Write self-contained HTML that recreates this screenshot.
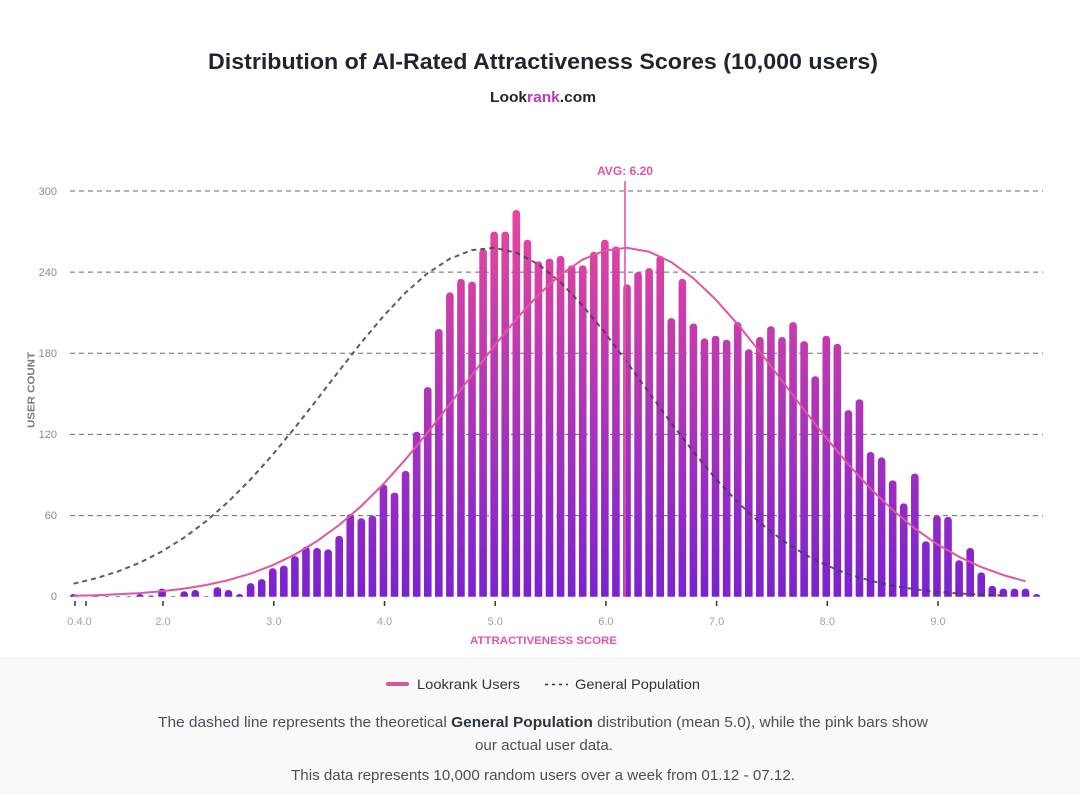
<!DOCTYPE html>
<html><head><meta charset="utf-8"><style>
html,body{margin:0;padding:0;background:#fff;}
svg{display:block;font-family:"Liberation Sans",Arial,sans-serif;}
</style></head><body>
<svg width="1080" height="795" viewBox="0 0 1080 795" xmlns="http://www.w3.org/2000/svg">
<defs>
<linearGradient id="bg" gradientUnits="userSpaceOnUse" x1="0" y1="0" x2="0" y2="300">
<stop offset="0" stop-color="#7a22d0"/><stop offset="0.5" stop-color="#b236b6"/><stop offset="1" stop-color="#ee4899"/>
</linearGradient>
<clipPath id="cp"><rect x="0" y="0" width="1080" height="596.7"/></clipPath>
</defs>
<rect x="0" y="0" width="1080" height="795" fill="#ffffff"/>
<rect x="0" y="657" width="1080" height="138" fill="#f9f9fa"/>

<text x="543" y="69" text-anchor="middle" font-size="22" font-weight="bold" fill="#1f2430" textLength="670" lengthAdjust="spacingAndGlyphs">Distribution of AI-Rated Attractiveness Scores (10,000 users)</text>
<text x="543" y="102" text-anchor="middle" font-size="15" font-weight="bold" fill="#1f2430" textLength="106" lengthAdjust="spacingAndGlyphs">Look<tspan fill="#b23db8">rank</tspan>.com</text>

<g stroke="#6a6a6a" stroke-width="1" stroke-dasharray="5,4" fill="none">
<line x1="70" y1="191" x2="1043" y2="191"/>
<line x1="70" y1="272.1" x2="1043" y2="272.1"/>
<line x1="70" y1="353.3" x2="1043" y2="353.3"/>
<line x1="70" y1="434.4" x2="1043" y2="434.4"/>
<line x1="70" y1="515.6" x2="1043" y2="515.6"/>
</g>

<g font-size="11" fill="#8a8a8a" text-anchor="end">
<text x="57" y="195">300</text>
<text x="57" y="276">240</text>
<text x="57" y="357">180</text>
<text x="57" y="438">120</text>
<text x="57" y="519">60</text>
<text x="57" y="600">0</text>
</g>
<text transform="translate(34.5,390) rotate(-90)" text-anchor="middle" font-size="10" font-weight="bold" fill="#7a7a7a" textLength="76" lengthAdjust="spacingAndGlyphs">USER COUNT</text>

<g clip-path="url(#cp)">
<g transform="translate(69.7,596.7) scale(11.07,-1.3523)" fill="url(#bg)">
<rect x="0" y="-4" width=".687" height="6" rx=".32" ry="2.6"/>
<rect x="2" y="-4" width=".687" height="5" rx=".32" ry="2.6"/>
<rect x="3" y="-4" width=".687" height="4.5" rx=".32" ry="2.6"/>
<rect x="4" y="-4" width=".687" height="4.5" rx=".32" ry="2.6"/>
<rect x="5" y="-4" width=".687" height="4.5" rx=".32" ry="2.6"/>
<rect x="6" y="-4" width=".687" height="6" rx=".32" ry="2.6"/>
<rect x="7" y="-4" width=".687" height="5" rx=".32" ry="2.6"/>
<rect x="8" y="-4" width=".687" height="10" rx=".32" ry="2.6"/>
<rect x="9" y="-4" width=".687" height="4.5" rx=".32" ry="2.6"/>
<rect x="10" y="-4" width=".687" height="8" rx=".32" ry="2.6"/>
<rect x="11" y="-4" width=".687" height="9" rx=".32" ry="2.6"/>
<rect x="12" y="-4" width=".687" height="4.5" rx=".32" ry="2.6"/>
<rect x="13" y="-4" width=".687" height="11" rx=".32" ry="2.6"/>
<rect x="14" y="-4" width=".687" height="9" rx=".32" ry="2.6"/>
<rect x="15" y="-4" width=".687" height="6" rx=".32" ry="2.6"/>
<rect x="16" y="-4" width=".687" height="14" rx=".32" ry="2.6"/>
<rect x="17" y="-4" width=".687" height="17" rx=".32" ry="2.6"/>
<rect x="18" y="-4" width=".687" height="25" rx=".32" ry="2.6"/>
<rect x="19" y="-4" width=".687" height="27" rx=".32" ry="2.6"/>
<rect x="20" y="-4" width=".687" height="34" rx=".32" ry="2.6"/>
<rect x="21" y="-4" width=".687" height="41" rx=".32" ry="2.6"/>
<rect x="22" y="-4" width=".687" height="40" rx=".32" ry="2.6"/>
<rect x="23" y="-4" width=".687" height="39" rx=".32" ry="2.6"/>
<rect x="24" y="-4" width=".687" height="49" rx=".32" ry="2.6"/>
<rect x="25" y="-4" width=".687" height="65" rx=".32" ry="2.6"/>
<rect x="26" y="-4" width=".687" height="62" rx=".32" ry="2.6"/>
<rect x="27" y="-4" width=".687" height="64" rx=".32" ry="2.6"/>
<rect x="28" y="-4" width=".687" height="87" rx=".32" ry="2.6"/>
<rect x="29" y="-4" width=".687" height="81" rx=".32" ry="2.6"/>
<rect x="30" y="-4" width=".687" height="97" rx=".32" ry="2.6"/>
<rect x="31" y="-4" width=".687" height="126" rx=".32" ry="2.6"/>
<rect x="32" y="-4" width=".687" height="159" rx=".32" ry="2.6"/>
<rect x="33" y="-4" width=".687" height="202" rx=".32" ry="2.6"/>
<rect x="34" y="-4" width=".687" height="229" rx=".32" ry="2.6"/>
<rect x="35" y="-4" width=".687" height="239" rx=".32" ry="2.6"/>
<rect x="36" y="-4" width=".687" height="237" rx=".32" ry="2.6"/>
<rect x="37" y="-4" width=".687" height="261" rx=".32" ry="2.6"/>
<rect x="38" y="-4" width=".687" height="274" rx=".32" ry="2.6"/>
<rect x="39" y="-4" width=".687" height="274" rx=".32" ry="2.6"/>
<rect x="40" y="-4" width=".687" height="290" rx=".32" ry="2.6"/>
<rect x="41" y="-4" width=".687" height="268" rx=".32" ry="2.6"/>
<rect x="42" y="-4" width=".687" height="252" rx=".32" ry="2.6"/>
<rect x="43" y="-4" width=".687" height="254" rx=".32" ry="2.6"/>
<rect x="44" y="-4" width=".687" height="256" rx=".32" ry="2.6"/>
<rect x="45" y="-4" width=".687" height="249" rx=".32" ry="2.6"/>
<rect x="46" y="-4" width=".687" height="249" rx=".32" ry="2.6"/>
<rect x="47" y="-4" width=".687" height="259" rx=".32" ry="2.6"/>
<rect x="48" y="-4" width=".687" height="268" rx=".32" ry="2.6"/>
<rect x="49" y="-4" width=".687" height="263" rx=".32" ry="2.6"/>
<rect x="50" y="-4" width=".687" height="235" rx=".32" ry="2.6"/>
<rect x="51" y="-4" width=".687" height="244" rx=".32" ry="2.6"/>
<rect x="52" y="-4" width=".687" height="247" rx=".32" ry="2.6"/>
<rect x="53" y="-4" width=".687" height="256" rx=".32" ry="2.6"/>
<rect x="54" y="-4" width=".687" height="210" rx=".32" ry="2.6"/>
<rect x="55" y="-4" width=".687" height="239" rx=".32" ry="2.6"/>
<rect x="56" y="-4" width=".687" height="206" rx=".32" ry="2.6"/>
<rect x="57" y="-4" width=".687" height="195" rx=".32" ry="2.6"/>
<rect x="58" y="-4" width=".687" height="197" rx=".32" ry="2.6"/>
<rect x="59" y="-4" width=".687" height="194" rx=".32" ry="2.6"/>
<rect x="60" y="-4" width=".687" height="207" rx=".32" ry="2.6"/>
<rect x="61" y="-4" width=".687" height="187" rx=".32" ry="2.6"/>
<rect x="62" y="-4" width=".687" height="196" rx=".32" ry="2.6"/>
<rect x="63" y="-4" width=".687" height="204" rx=".32" ry="2.6"/>
<rect x="64" y="-4" width=".687" height="196" rx=".32" ry="2.6"/>
<rect x="65" y="-4" width=".687" height="207" rx=".32" ry="2.6"/>
<rect x="66" y="-4" width=".687" height="193" rx=".32" ry="2.6"/>
<rect x="67" y="-4" width=".687" height="167" rx=".32" ry="2.6"/>
<rect x="68" y="-4" width=".687" height="197" rx=".32" ry="2.6"/>
<rect x="69" y="-4" width=".687" height="191" rx=".32" ry="2.6"/>
<rect x="70" y="-4" width=".687" height="142" rx=".32" ry="2.6"/>
<rect x="71" y="-4" width=".687" height="150" rx=".32" ry="2.6"/>
<rect x="72" y="-4" width=".687" height="111" rx=".32" ry="2.6"/>
<rect x="73" y="-4" width=".687" height="107" rx=".32" ry="2.6"/>
<rect x="74" y="-4" width=".687" height="90" rx=".32" ry="2.6"/>
<rect x="75" y="-4" width=".687" height="73" rx=".32" ry="2.6"/>
<rect x="76" y="-4" width=".687" height="95" rx=".32" ry="2.6"/>
<rect x="77" y="-4" width=".687" height="45" rx=".32" ry="2.6"/>
<rect x="78" y="-4" width=".687" height="64" rx=".32" ry="2.6"/>
<rect x="79" y="-4" width=".687" height="63" rx=".32" ry="2.6"/>
<rect x="80" y="-4" width=".687" height="31" rx=".32" ry="2.6"/>
<rect x="81" y="-4" width=".687" height="40" rx=".32" ry="2.6"/>
<rect x="82" y="-4" width=".687" height="22" rx=".32" ry="2.6"/>
<rect x="83" y="-4" width=".687" height="12" rx=".32" ry="2.6"/>
<rect x="84" y="-4" width=".687" height="10" rx=".32" ry="2.6"/>
<rect x="85" y="-4" width=".687" height="10" rx=".32" ry="2.6"/>
<rect x="86" y="-4" width=".687" height="10" rx=".32" ry="2.6"/>
<rect x="87" y="-4" width=".687" height="6" rx=".32" ry="2.6"/>
</g>
</g>

<polyline fill="none" stroke="#3f3f4f" stroke-opacity="0.85" stroke-width="2" stroke-dasharray="5,4" points="73.5,583.7 95.64,578.4 117.78,571.5 139.92,562.6 162.06,551.4 184.2,537.6 206.34,521.0 228.48,501.6 250.62,479.3 272.76,454.6 294.9,427.7 317.04,399.5 339.18,370.7 361.32,342.5 383.46,316.1 405.6,292.6 427.74,273.1 449.88,258.7 472.02,250.1 494.16,247.8 516.3,252.7 538.44,264.3 560.58,282.3 582.72,305.6 604.86,332.6 627.0,362.2 649.14,392.8 671.28,423.1 693.42,451.9 715.56,478.5 737.7,502.2 759.84,522.7 781.98,539.9 804.12,554.1 826.26,565.3 848.4,574.1 870.54,580.7 892.68,585.7 914.82,589.3 936.96,591.8 959.1,593.5 981.24,594.7 1003.38,595.5"/>

<polyline fill="none" stroke="#e2559f" stroke-width="2" stroke-linejoin="round" points="73.5,595.7 95.64,595.2 117.78,594.3 139.92,593.1 162.06,591.2 184.2,588.6 206.34,585.0 228.48,580.1 250.62,573.6 272.76,565.2 294.9,554.5 317.04,541.1 339.18,525.0 361.32,506.0 383.46,484.0 405.6,459.3 427.74,432.5 449.88,404.0 472.02,374.9 494.16,346.1 516.3,319.1 538.44,294.8 560.58,274.6 582.72,259.6 604.86,250.5 627.0,247.8 649.14,251.7 671.28,262.1 693.42,278.3 715.56,299.4 737.7,324.3 759.84,351.8 781.98,380.7 804.12,409.8 826.26,438.0 848.4,464.5 870.54,488.7 892.68,510.0 914.82,528.5 936.96,544.1 959.1,556.8 981.24,567.1 1003.38,575.1 1025.52,581.3"/>

<line x1="625" y1="181" x2="625" y2="597" stroke="#e2559f" stroke-width="1.6"/>
<text x="625" y="175" text-anchor="middle" font-size="11.5" font-weight="bold" fill="#e2559f" textLength="56" lengthAdjust="spacingAndGlyphs">AVG: 6.20</text>

<g stroke="#333" stroke-width="1.5">
<line x1="75" y1="601" x2="75" y2="606"/>
<line x1="86" y1="601" x2="86" y2="606"/>
<line x1="163" y1="601" x2="163" y2="606"/>
<line x1="273.8" y1="601" x2="273.8" y2="606"/>
<line x1="384.5" y1="601" x2="384.5" y2="606"/>
<line x1="495.2" y1="601" x2="495.2" y2="606"/>
<line x1="605.9" y1="601" x2="605.9" y2="606"/>
<line x1="716.6" y1="601" x2="716.6" y2="606"/>
<line x1="827.3" y1="601" x2="827.3" y2="606"/>
<line x1="938" y1="601" x2="938" y2="606"/>
</g>
<g font-size="11" fill="#a2a2a2" text-anchor="middle">
<text x="79.5" y="625">0.4.0</text>
<text x="163" y="625">2.0</text>
<text x="273.8" y="625">3.0</text>
<text x="384.5" y="625">4.0</text>
<text x="495.2" y="625">5.0</text>
<text x="605.9" y="625">6.0</text>
<text x="716.6" y="625">7.0</text>
<text x="827.3" y="625">8.0</text>
<text x="938" y="625">9.0</text>
</g>
<text x="543.5" y="644" text-anchor="middle" font-size="11" font-weight="bold" fill="#e2559f" textLength="147" lengthAdjust="spacingAndGlyphs">ATTRACTIVENESS SCORE</text>

<line x1="388" y1="684" x2="407" y2="684" stroke="#d9559f" stroke-width="4" stroke-linecap="round"/>
<text x="417" y="689" font-size="14" fill="#2f3340" textLength="103" lengthAdjust="spacingAndGlyphs">Lookrank Users</text>
<line x1="545" y1="684.5" x2="568" y2="684.5" stroke="#333" stroke-width="1.6" stroke-dasharray="3,4"/>
<text x="575" y="689" font-size="14" fill="#2f3340" textLength="125" lengthAdjust="spacingAndGlyphs">General Population</text>

<text x="543" y="727" text-anchor="middle" font-size="15" fill="#4a4f5a" textLength="770" lengthAdjust="spacingAndGlyphs">The dashed line represents the theoretical <tspan font-weight="bold" fill="#2f3340">General Population</tspan> distribution (mean 5.0), while the pink bars show</text>
<text x="544" y="750" text-anchor="middle" font-size="15" fill="#4a4f5a" textLength="138" lengthAdjust="spacingAndGlyphs">our actual user data.</text>
<text x="543" y="780" text-anchor="middle" font-size="15" fill="#4a4f5a" textLength="504" lengthAdjust="spacingAndGlyphs">This data represents 10,000 random users over a week from 01.12 - 07.12.</text>
</svg>
</body></html>
